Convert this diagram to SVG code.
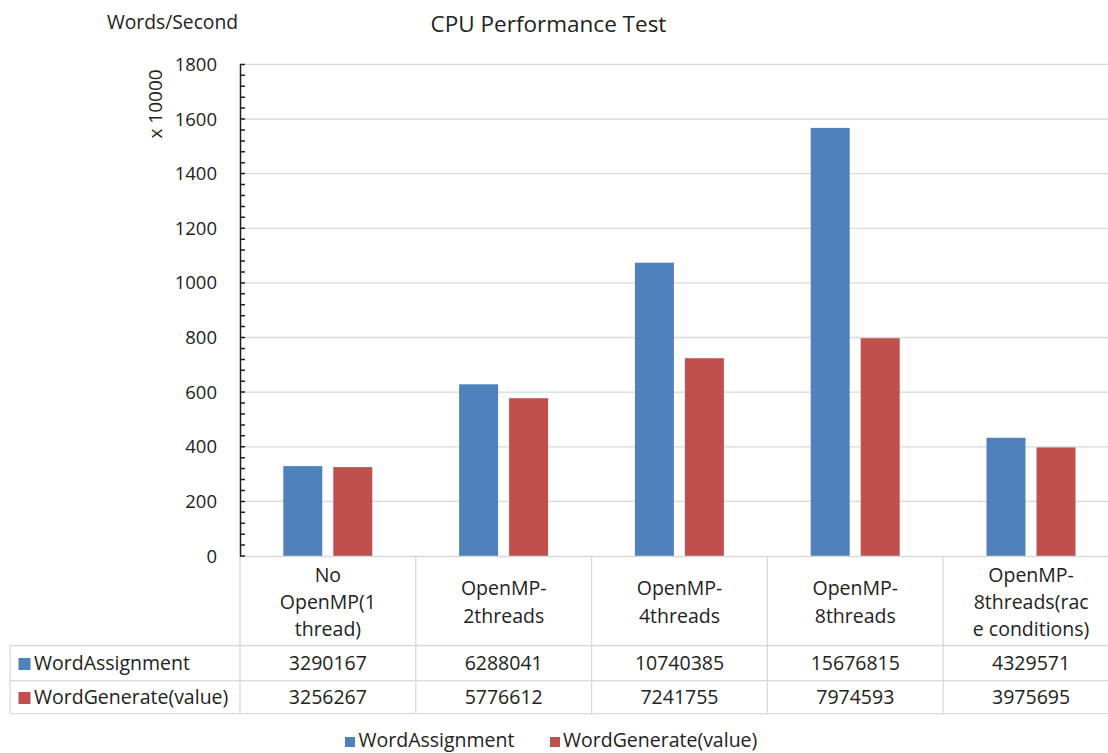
<svg xmlns="http://www.w3.org/2000/svg" width="1108" height="753" viewBox="0 0 1108 753">
<style>
text{font-family:"Open Sans","Liberation Sans",sans-serif;fill:#222222}
.lbl{font-size:19.5px}
.tick{font-size:18.5px;text-anchor:end}
.c{text-anchor:middle}
.grid{stroke:#d9d9d9;stroke-width:1.3;fill:none}
.tbl{stroke:#d9d9d9;stroke-width:1.3;fill:none}
.axis{stroke:#1f1f1f;stroke-width:1.5;fill:none}
.b{fill:#4F81BD}
.r{fill:#C0504D}
</style>
<rect width="1108" height="753" fill="#ffffff"/>
<text x="548.5" y="31.5" class="c" style="font-size:22.5px">CPU Performance Test</text>
<text x="172.5" y="28.5" class="c" style="font-size:19.3px">Words/Second</text>
<text transform="translate(161.5,104) rotate(-90)" class="c" style="font-size:19px">x 10000</text>
<g id="gridlines">
<path class="grid" d="M240 64.4H1108M240 119H1108M240 173.6H1108M240 228.3H1108M240 282.9H1108M240 337.5H1108M240 392.1H1108M240 446.8H1108M240 501.4H1108"/>
</g>
<g id="yticks">
<text x="217" y="71" class="tick">1800</text>
<text x="217" y="125.5" class="tick">1600</text>
<text x="217" y="180" class="tick">1400</text>
<text x="217" y="234.8" class="tick">1200</text>
<text x="217" y="289.4" class="tick">1000</text>
<text x="217" y="344" class="tick">800</text>
<text x="217" y="398.6" class="tick">600</text>
<text x="217" y="453.3" class="tick">400</text>
<text x="217" y="507.9" class="tick">200</text>
<text x="217" y="562.5" class="tick">0</text>
</g>
<g id="bars">
<rect class="b" x="283.3" y="466.1" width="39" height="89.9"/>
<rect class="r" x="333.3" y="467.1" width="39" height="88.9"/>
<rect class="b" x="459.1" y="384.3" width="39" height="171.7"/>
<rect class="r" x="509.1" y="398.2" width="39" height="157.8"/>
<rect class="b" x="634.9" y="262.7" width="39" height="293.3"/>
<rect class="r" x="684.9" y="358.2" width="39" height="197.8"/>
<rect class="b" x="810.7" y="127.9" width="39" height="428.1"/>
<rect class="r" x="860.7" y="338.2" width="39" height="217.8"/>
<rect class="b" x="986.5" y="437.8" width="39" height="118.2"/>
<rect class="r" x="1036.5" y="447.4" width="39" height="108.6"/>
</g>
<g id="table">
<path class="tbl" d="M240 556.5H1108M10 645.5H1108M10 680.7H1108M10 713.7H1108M10 645.5V713.7M240 556.5V713.7M415.8 556.5V713.7M591.6 556.5V713.7M767.4 556.5V713.7M943.2 556.5V713.7"/>
<text class="lbl c" x="327.9" y="581.7">No</text>
<text class="lbl c" x="327.9" y="609">OpenMP(1</text>
<text class="lbl c" x="327.9" y="636.3">thread)</text>
<text class="lbl c" x="503.7" y="595.3">OpenMP-</text>
<text class="lbl c" x="503.7" y="622.5">2threads</text>
<text class="lbl c" x="679.5" y="595.3">OpenMP-</text>
<text class="lbl c" x="679.5" y="622.5">4threads</text>
<text class="lbl c" x="855.3" y="595.3">OpenMP-</text>
<text class="lbl c" x="855.3" y="622.5">8threads</text>
<text class="lbl c" x="1031.1" y="581.7">OpenMP-</text>
<text class="lbl c" x="1031.1" y="609">8threads(rac</text>
<text class="lbl c" x="1031.1" y="636.3">e conditions)</text>
<rect class="b" x="18.5" y="658" width="12" height="12"/>
<text class="lbl" x="34" y="669.5">WordAssignment</text>
<rect class="r" x="18.5" y="692" width="12" height="12"/>
<text class="lbl" x="34" y="703.5">WordGenerate(value)</text>
<text class="lbl c" x="327.9" y="669.5">3290167</text>
<text class="lbl c" x="503.7" y="669.5">6288041</text>
<text class="lbl c" x="679.5" y="669.5">10740385</text>
<text class="lbl c" x="855.3" y="669.5">15676815</text>
<text class="lbl c" x="1031.1" y="669.5">4329571</text>
<text class="lbl c" x="327.9" y="703.5">3256267</text>
<text class="lbl c" x="503.7" y="703.5">5776612</text>
<text class="lbl c" x="679.5" y="703.5">7241755</text>
<text class="lbl c" x="855.3" y="703.5">7974593</text>
<text class="lbl c" x="1031.1" y="703.5">3975695</text>
</g>
<g id="yaxis">
<path class="axis" d="M240.5 64.4V556.5"/>
<path class="axis" stroke-width="1.2" d="M240 556H245M240 545.1H245M240 534.2H245M240 523.2H245M240 512.3H245M240 501.4H245M240 490.5H245M240 479.5H245M240 468.6H245M240 457.7H245M240 446.8H245M240 435.8H245M240 424.9H245M240 414H245M240 403.1H245M240 392.1H245M240 381.2H245M240 370.3H245M240 359.4H245M240 348.4H245M240 337.5H245M240 326.6H245M240 315.7H245M240 304.7H245M240 293.8H245M240 282.9H245M240 272H245M240 261H245M240 250.1H245M240 239.2H245M240 228.3H245M240 217.3H245M240 206.4H245M240 195.5H245M240 184.6H245M240 173.6H245M240 162.7H245M240 151.8H245M240 140.9H245M240 129.9H245M240 119H245M240 108.1H245M240 97.2H245M240 86.2H245M240 75.3H245M240 64.4H245"/>
</g>
<g id="legend">
<rect class="b" x="345" y="737" width="10" height="10"/>
<text class="lbl" x="358.5" y="746.5">WordAssignment</text>
<rect class="r" x="550" y="737" width="10" height="10"/>
<text class="lbl" x="563" y="746.5">WordGenerate(value)</text>
</g>
</svg>
